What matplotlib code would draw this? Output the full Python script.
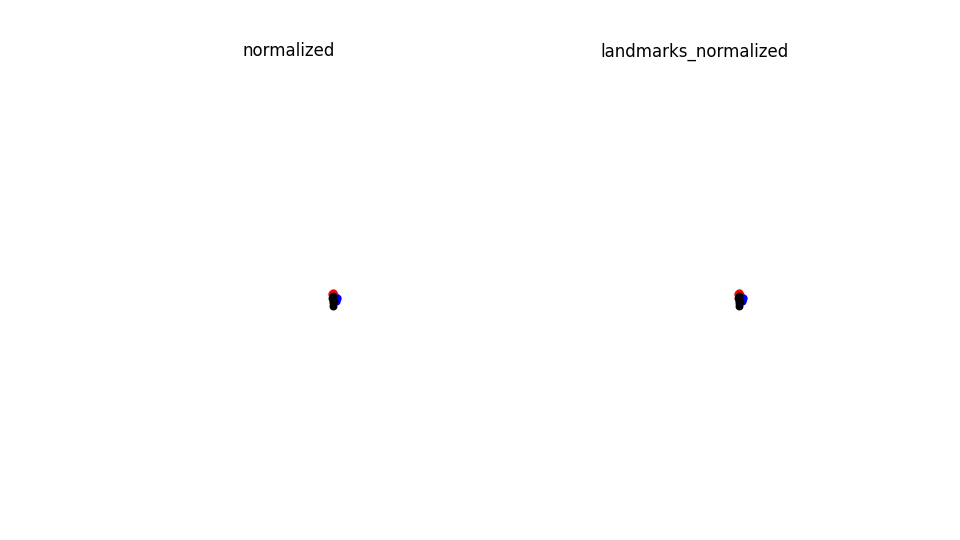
import matplotlib
matplotlib.use("Agg")
import matplotlib.pyplot as plt

# landmark positions (normalized image coords, y grows downward)
black_x = [0.630, 0.627, 0.630, 0.630, 0.630, 0.633]
black_y = [0.556, 0.562, 0.567, 0.573, 0.580, 0.569]
red_x = [0.630, 0.627, 0.634]
red_y = [0.550, 0.552, 0.553]
blue_x = [0.642, 0.640]
blue_y = [0.561, 0.568]

titles = ["normalized", "landmarks_normalized"]

fig, axes = plt.subplots(1, 2, figsize=(9.6, 5.4), dpi=100)
for ax, title in zip(axes, titles):
    ax.scatter(red_x, red_y, c="red", s=25)
    ax.scatter(blue_x, blue_y, c="blue", s=25)
    ax.scatter(black_x, black_y, c="black", s=22)
    ax.set_xlim(0, 1)
    ax.set_ylim(1, 0)
    ax.set_title(title)
    ax.axis("off")

fig.savefig("out.png")
